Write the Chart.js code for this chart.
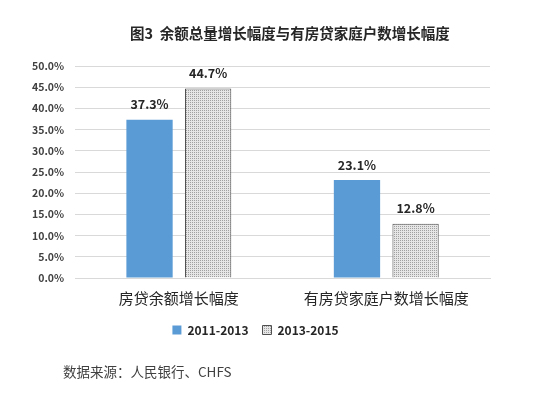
<!DOCTYPE html>
<html>
<head>
<meta charset="utf-8">
<script src="https://cdn.jsdelivr.net/npm/chart.js@4.4.0/dist/chart.umd.min.js"></script>
<style>
  body { margin: 0; background: #ffffff; }
  #wrap { position: relative; width: 550px; height: 405px; }
  #titulo {
    position: absolute; left: 130px; top: 22px; width: 320px;
    font-family: "Noto Sans CJK SC", sans-serif; font-size: 14.5px; font-weight: bold;
    color: #262626; white-space: nowrap;
  }
  #source {
    position: absolute; left: 63px; top: 361px;
    font-family: "Noto Sans CJK SC", sans-serif; font-size: 13.5px; color: #404040;
  }
</style>
</head>
<body>
<div id="wrap">
  <canvas id="chartCanvas" width="550" height="405"></canvas>
  <div id="titulo">图3&nbsp; 余额总量增长幅度与有房贷家庭户数增长幅度</div>
  <div id="source">数据来源：人民银行、CHFS</div>
</div>
<script>
// 数据
const categorias = ['房贷余额增长幅度', '有房贷家庭户数增长幅度'];
const serie2011 = [37.3, 23.1];
const serie2013 = [44.7, 12.8];
const nombresSeries = ['2011-2013', '2013-2015'];

const fontCJK = '"Noto Sans CJK SC", "Noto Sans", sans-serif';

// 灰色网点图案
function crearPatron() {
    const c = document.createElement('canvas');
    c.width = 2;
    c.height = 2;
    const p = c.getContext('2d');
    p.fillStyle = '#e6e6e6';
    p.fillRect(0, 0, 2, 2);
    p.fillStyle = '#a0a0a0';
    p.fillRect(0, 0, 1, 1);
    return p.createPattern(c, 'repeat');
}

const ctx = document.getElementById('chartCanvas').getContext('2d');
const patron = crearPatron();

// 数值标签
const etiquetas = {
    id: 'etiquetas',
    afterDatasetsDraw(chart) {
        const c = chart.ctx;
        c.save();
        c.font = 'bold 12.5px ' + fontCJK;
        c.fillStyle = '#262626';
        c.textAlign = 'center';
        c.textBaseline = 'bottom';
        chart.data.datasets.forEach((ds, i) => {
            chart.getDatasetMeta(i).data.forEach((bar, j) => {
                c.fillText(ds.data[j].toFixed(1) + '%', bar.x, bar.y - 9);
            });
        });
        c.restore();
    }
};

const chart = new Chart(ctx, {
    type: 'bar',
    data: {
        labels: categorias,
        datasets: [{
            label: nombresSeries[0],
            data: serie2011,
            backgroundColor: '#5b9bd5',
            borderWidth: 0
        }, {
            label: nombresSeries[1],
            data: serie2013,
            backgroundColor: patron,
            borderColor: '#505050',
            borderWidth: 1
        }]
    },
    options: {
        responsive: false,
        animation: false,
        categoryPercentage: 0.565,
        barPercentage: 0.79,
        layout: { padding: { left: 21, right: 60, top: 66, bottom: 59 } },
        plugins: {
            legend: {
                position: 'bottom',
                labels: {
                    boxWidth: 9,
                    boxHeight: 9,
                    padding: 14,
                    color: '#262626',
                    font: { family: fontCJK, size: 12, weight: 'bold' }
                }
            },
            tooltip: { enabled: false }
        },
        scales: {
            y: {
                min: 0,
                max: 50,
                ticks: {
                    stepSize: 5,
                    padding: 11,
                    color: '#404040',
                    font: { family: fontCJK, size: 10.5, weight: 'bold' },
                    callback: v => v.toFixed(1) + '%'
                },
                grid: { color: '#d9d9d9', drawTicks: false },
                border: { display: false }
            },
            x: {
                ticks: {
                    color: '#262626',
                    padding: 3,
                    font: { family: fontCJK, size: 15 }
                },
                grid: { display: false },
                border: { color: '#d9d9d9' }
            }
        }
    },
    plugins: [etiquetas]
});
</script>
</body>
</html>
